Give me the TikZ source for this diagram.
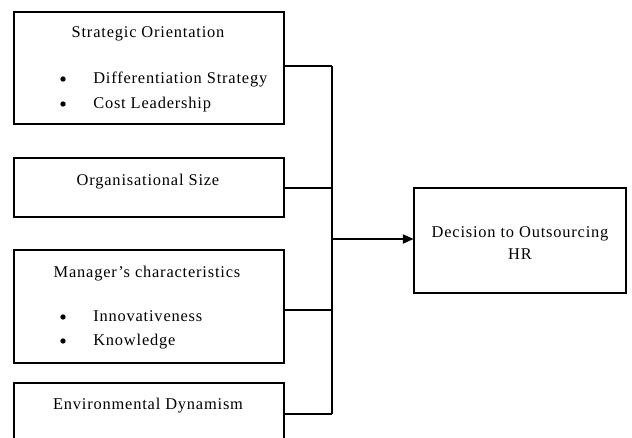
\documentclass[tikz,border=0pt]{standalone}
\usepackage{fontspec}
\setmainfont{Liberation Serif}[LetterSpace=5]
\usetikzlibrary{arrows.meta}
\begin{document}
\begin{tikzpicture}[x=0.75pt,y=-0.75pt,
  box/.style={draw,line width=0.8pt,inner sep=0pt},
  txt/.style={anchor=base,inner sep=0pt,font=\fontsize{12.3}{14}\selectfont},
  btxt/.style={anchor=base west,inner sep=0pt,font=\fontsize{12.3}{14}\selectfont},
  bul/.style={circle,fill,inner sep=0pt,minimum size=4pt},
  conn/.style={line width=0.8pt}]
\clip (0,0) rectangle (632,437);
% boxes
\node[box,minimum width=270*0.75pt,minimum height=112*0.75pt] (b1) at (149,68) {};
\node[box,minimum width=270*0.75pt,minimum height=59*0.75pt] (b2) at (149,187.5) {};
\node[box,minimum width=270*0.75pt,minimum height=113*0.75pt] (b3) at (149,306.5) {};
\node[box,minimum width=270*0.75pt,minimum height=110*0.75pt] (b4) at (149,438) {};
\node[box,minimum width=212*0.75pt,minimum height=105*0.75pt] (b5) at (520,240.5) {};
% texts
\node[txt] (t1) at (148,37) {Strategic Orientation};
\node[bul] (d1) at (63,79) {};
\node[btxt] (t1a) at (93,83) {Differentiation Strategy};
\node[bul] (d2) at (63,104) {};
\node[btxt] (t1b) at (93,108) {Cost Leadership};
\node[txt] (t2) at (148,185) {Organisational Size};
\node[txt] (t3) at (147,277) {Manager’s characteristics};
\node[bul] (d3) at (63,317) {};
\node[btxt] (t3a) at (93,321) {Innovativeness};
\node[bul] (d4) at (63,341) {};
\node[btxt] (t3b) at (93,345) {Knowledge};
\node[txt] (t4) at (148,409) {Environmental Dynamism};
\node[txt] (t5) at (520,237) {Decision to Outsourcing};
\node[txt] (t5b) at (520,259) {HR};
% connectors
\coordinate (j1) at (332,66);
\coordinate (j2) at (332,188);
\coordinate (j3) at (332,310);
\coordinate (j4) at (332,414);
\coordinate (ja) at (332,239);
\draw[conn] (b1.east |- j1) -- (j1);
\draw[conn] (b2.east |- j2) -- (j2);
\draw[conn] (b3.east |- j3) -- (j3);
\draw[conn] (b4.east |- j4) -- (j4);
\draw[conn] (j1) -- (j4);
\draw[conn,-{Triangle[length=8pt,width=7pt]}] (ja) -- (b5.west |- ja);
\end{tikzpicture}
\end{document}
